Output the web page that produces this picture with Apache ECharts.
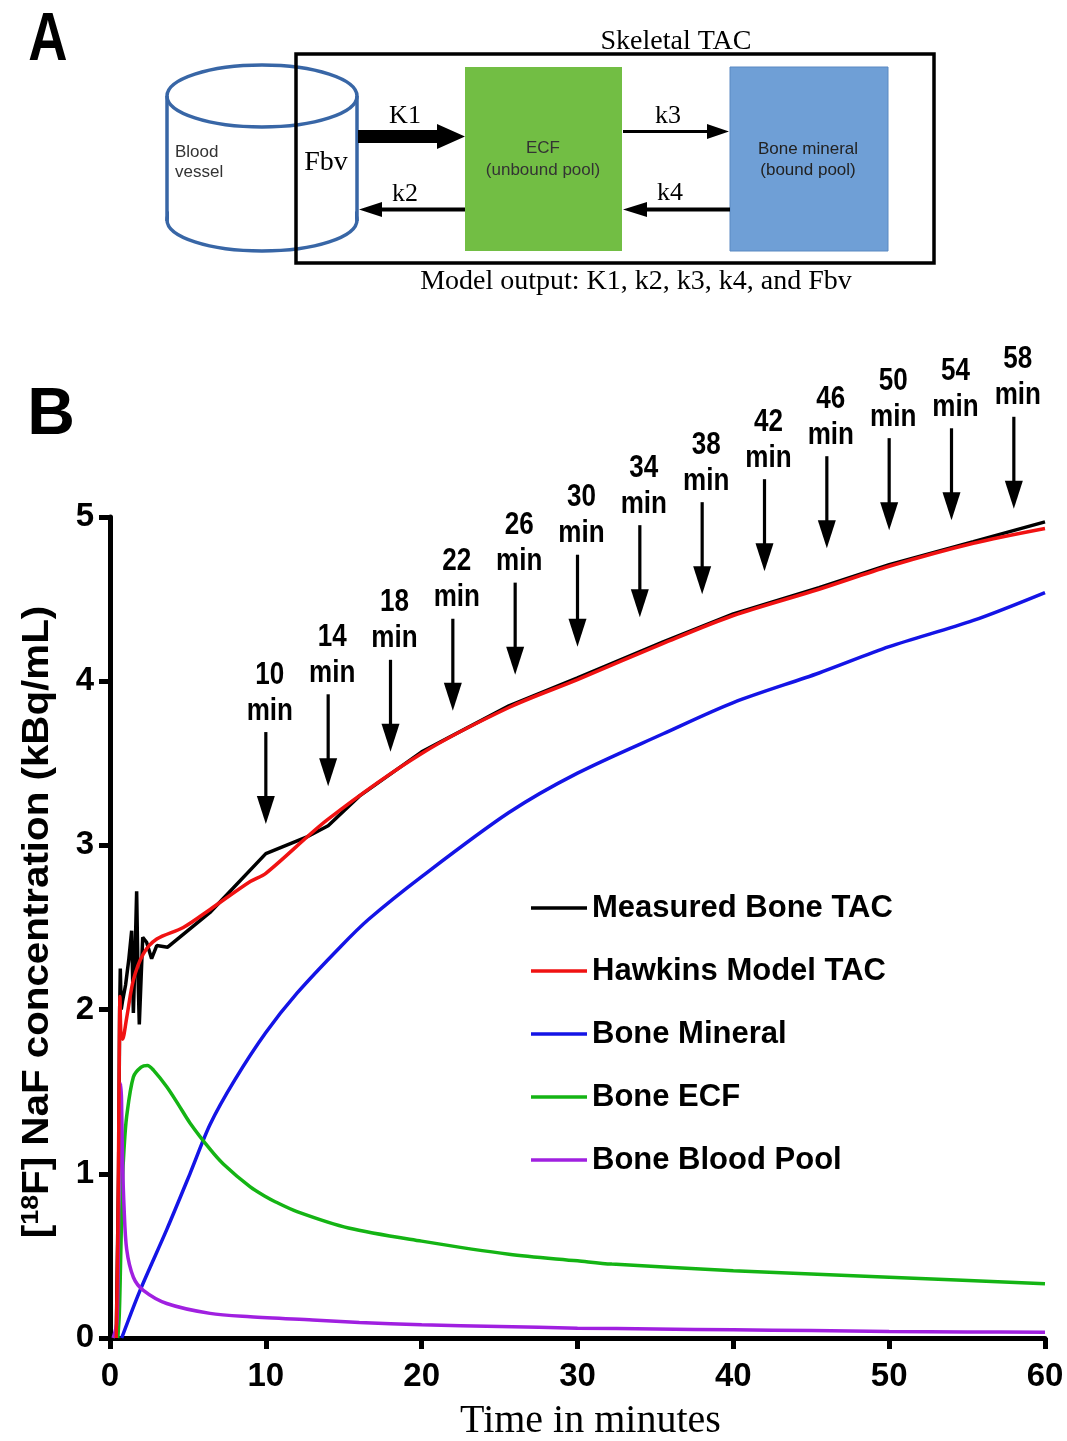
<!DOCTYPE html>
<html>
<head>
<meta charset="utf-8">
<title>Skeletal TAC</title>
<script src="https://cdn.jsdelivr.net/npm/echarts@6/dist/echarts.min.js"></script>
<style>
  html, body { margin: 0; padding: 0; background: #fff; }
  #chart { width: 1067px; height: 1441px; }
</style>
</head>
<body>
<div id="chart"></div>
<script>
// measured bone TAC (noisy at the start)
const measuredTime = [0.4, 0.55, 0.62, 0.66, 0.72, 0.8, 1.0, 1.2, 1.39, 1.5, 1.6, 1.71, 1.8, 1.88, 2.0, 2.1, 2.35, 2.67, 3.0, 3.7, 6.4, 10, 12.6, 14, 16, 20, 25.6, 30, 35.5, 40, 45.5, 50, 55.4, 60];
const measuredTac = [0, 1.0, 2.0, 2.25, 2.0, 2.05, 2.15, 2.3, 2.48, 1.98, 2.3, 2.72, 2.2, 1.91, 2.2, 2.44, 2.41, 2.31, 2.39, 2.38, 2.59, 2.95, 3.05, 3.12, 3.3, 3.57, 3.85, 4.02, 4.24, 4.41, 4.57, 4.71, 4.85, 4.97];

// Hawkins model TAC
const modelTime = [0.4, 0.5, 0.58, 0.64, 0.7, 0.8, 1.07, 1.5, 2.14, 3.0, 4.7, 6.42, 9, 10, 14, 20, 25.6, 30, 35.5, 40, 45.5, 50, 55.4, 60];
const modelTac = [0, 0.6, 1.5, 2.08, 1.85, 1.82, 1.95, 2.18, 2.34, 2.43, 2.5, 2.61, 2.78, 2.83, 3.16, 3.56, 3.84, 4.01, 4.23, 4.4, 4.56, 4.7, 4.84, 4.93];

// bone mineral (bound pool)
const mineralTime = [0.75, 1.93, 3.64, 5.13, 6.42, 8, 10, 12, 14.76, 16.6, 20, 25.6, 30, 35.5, 40, 45.5, 50, 55.4, 60];
const mineralVal = [0, 0.29, 0.66, 1.0, 1.3, 1.57, 1.86, 2.1, 2.38, 2.55, 2.81, 3.2, 3.44, 3.68, 3.87, 4.05, 4.21, 4.37, 4.54];

// bone ECF (unbound pool)
const ecfTime = [0.5, 0.6, 0.7, 0.8, 0.9, 1.07, 1.5, 2.0, 2.4, 2.8, 3.64, 4.4, 5.13, 6.42, 7.27, 9, 10, 10.6, 12, 15.3, 20, 25.6, 30, 32.2, 40, 50, 60];
const ecfVal = [0, 0.15, 0.55, 0.95, 1.15, 1.35, 1.59, 1.65, 1.66, 1.63, 1.53, 1.42, 1.31, 1.15, 1.06, 0.92, 0.86, 0.83, 0.77, 0.67, 0.59, 0.51, 0.47, 0.45, 0.41, 0.37, 0.33];

// bone blood pool
const bloodTime = [0.2, 0.45, 0.55, 0.62, 0.68, 0.74, 0.8, 0.9, 1.07, 1.5, 2.14, 3.64, 6.42, 9, 13, 16, 20, 25, 30, 35, 40, 45, 50, 55, 60];
const bloodVal = [0, 0.1, 0.7, 1.3, 1.55, 1.45, 1.1, 0.8, 0.54, 0.37, 0.29, 0.21, 0.15, 0.13, 0.11, 0.095, 0.08, 0.07, 0.06, 0.055, 0.05, 0.045, 0.04, 0.037, 0.035];

// static frame arrows
const frameTimes = [10, 14, 18, 22, 26, 30, 34, 38, 42, 46, 50, 54, 58];
const frameTips = [3.13, 3.36, 3.57, 3.82, 4.04, 4.21, 4.39, 4.53, 4.67, 4.81, 4.92, 4.98, 5.05];

const xTicks = [0, 60, 10];
const yTicks = [0, 5, 1];

const zip = (a, b) => a.map((t, i) => [t, b[i]]);

const sans = '"Liberation Sans", Arial, sans-serif';
const serif = '"Liberation Serif", "DejaVu Serif", serif';
const cylBlue = '#3866a6';

const chart = echarts.init(document.getElementById('chart'));

function lineSeries(name, data, color, z) {
  return {
    name: name,
    type: 'line',
    data: data,
    symbol: 'none',
    smooth: name === 'Measured Bone TAC' ? false : 0.3,
    z: z,
    lineStyle: { color: color, width: 3.5 },
    itemStyle: { color: color }
  };
}

const options = {
  animation: false,
  backgroundColor: '#fff',
  grid: { left: 110, right: 22, top: 517, bottom: 103, containLabel: false, outerBoundsMode: 'none' },
  legend: {
    orient: 'vertical',
    left: 526,
    top: 885,
    icon: 'rect',
    itemWidth: 56,
    itemHeight: 3.5,
    itemGap: 27,
    textStyle: { fontFamily: sans, fontWeight: 'bold', fontSize: 31, color: '#000', lineHeight: 36 },
    data: ['Measured Bone TAC', 'Hawkins Model TAC', 'Bone Mineral', 'Bone ECF', 'Bone Blood Pool']
  },
  xAxis: {
    type: 'value',
    min: xTicks[0],
    max: xTicks[1],
    interval: xTicks[2],
    name: 'Time in minutes',
    nameLocation: 'middle',
    nameGap: 63,
    nameTextStyle: { fontFamily: serif, fontSize: 40, color: '#000', padding: [0, 0, 0, 26] },
    axisLine: { lineStyle: { color: '#000', width: 5 } },
    axisTick: { length: 11, lineStyle: { color: '#000', width: 5 } },
    axisLabel: { fontFamily: sans, fontWeight: 'bold', fontSize: 33, color: '#000', margin: 22 },
    splitLine: { show: false }
  },
  yAxis: {
    type: 'value',
    min: yTicks[0],
    max: yTicks[1],
    interval: yTicks[2],
    axisLine: { lineStyle: { color: '#000', width: 5 } },
    axisTick: { length: 11, lineStyle: { color: '#000', width: 5 } },
    axisLabel: { fontFamily: sans, fontWeight: 'bold', fontSize: 33, color: '#000', margin: 16 },
    splitLine: { show: false }
  },
  series: [
    lineSeries('Measured Bone TAC', zip(measuredTime, measuredTac), '#000000', 3),
    lineSeries('Hawkins Model TAC', zip(modelTime, modelTac), '#f01212', 4),
    lineSeries('Bone Mineral', zip(mineralTime, mineralVal), '#1414e6', 3),
    lineSeries('Bone ECF', zip(ecfTime, ecfVal), '#14b414', 3),
    lineSeries('Bone Blood Pool', zip(bloodTime, bloodVal), '#a020e0', 3),
    {
      name: 'frames',
      type: 'custom',
      clip: false,
      z: 6,
      data: zip(frameTimes, frameTips),
      renderItem: function (params, api) {
        const p = api.coord([api.value(0), api.value(1)]);
        const x = p[0], y = p[1];
        return {
          type: 'group',
          children: [
            { type: 'rect', shape: { x: x - 1.6, y: y - 92, width: 3.2, height: 68 }, style: { fill: '#000' } },
            { type: 'polygon', shape: { points: [[x - 9, y - 28], [x + 9, y - 28], [x, y]] }, style: { fill: '#000' } },
            {
              type: 'text', x: x + 4, y: y - 131, scaleX: 0.84,
              style: {
                text: api.value(0) + '\nmin', fill: '#000',
                font: 'bold 31px ' + sans, lineHeight: 36,
                textAlign: 'center', textVerticalAlign: 'middle'
              }
            }
          ]
        };
      }
    }
  ],
  graphic: [
    // panel letters
    { type: 'text', x: 48, y: 41, scaleX: 0.8, style: { text: 'A', font: 'bold 68px ' + sans, fill: '#000', textAlign: 'center', textVerticalAlign: 'middle' } },
    { type: 'text', x: 51, y: 416, style: { text: 'B', font: 'bold 66px ' + sans, fill: '#000', textAlign: 'center', textVerticalAlign: 'middle' } },
    // y axis title
    {
      type: 'text', x: 38, y: 922, rotation: Math.PI / 2, scaleX: 1.12,
      style: {
        text: '[{sup|18}F] NaF concentration (kBq/mL)',
        font: 'bold 36px ' + sans, fill: '#000',
        textAlign: 'center', textVerticalAlign: 'middle',
        rich: { sup: { fontSize: 24, fontWeight: 'bold', fontFamily: sans, verticalAlign: 'top', padding: [0, 0, 14, 0] } }
      }
    },
    // blood vessel cylinder
    { type: 'ellipse', z: 1, shape: { cx: 262, cy: 220, rx: 95, ry: 31 }, style: { fill: '#fff', stroke: cylBlue, lineWidth: 3.5 } },
    { type: 'rect', z: 2, shape: { x: 169, y: 96, width: 186, height: 124 }, style: { fill: '#fff' } },
    { type: 'line', z: 3, shape: { x1: 167, y1: 96, x2: 167, y2: 221 }, style: { stroke: cylBlue, lineWidth: 3.5 } },
    { type: 'line', z: 3, shape: { x1: 357, y1: 96, x2: 357, y2: 221 }, style: { stroke: cylBlue, lineWidth: 3.5 } },
    { type: 'ellipse', z: 3, shape: { cx: 262, cy: 96, rx: 95, ry: 31 }, style: { fill: 'none', stroke: cylBlue, lineWidth: 3.5 } },
    // skeletal box
    { type: 'rect', z: 4, shape: { x: 296, y: 54, width: 638, height: 209 }, style: { fill: 'none', stroke: '#000', lineWidth: 3.5 } },
    { type: 'rect', z: 4, shape: { x: 465, y: 67, width: 157, height: 184 }, style: { fill: '#72be44' } },
    { type: 'rect', z: 4, shape: { x: 730, y: 67, width: 158, height: 184 }, style: { fill: '#6f9fd6', stroke: '#5b89c2', lineWidth: 1 } },
    // rate arrows
    { type: 'polygon', z: 5, shape: { points: [[358, 130], [437, 130], [437, 124], [465, 136.5], [437, 149], [437, 143], [358, 143]] }, style: { fill: '#000' } },
    { type: 'polygon', z: 5, shape: { points: [[623, 130], [707, 130], [707, 124], [729, 131.5], [707, 139], [707, 133], [623, 133]] }, style: { fill: '#000' } },
    { type: 'polygon', z: 5, shape: { points: [[465, 207.5], [382, 207.5], [382, 202], [359, 209.5], [382, 217], [382, 211.5], [465, 211.5]] }, style: { fill: '#000' } },
    { type: 'polygon', z: 5, shape: { points: [[730, 207.5], [647, 207.5], [647, 202], [623, 209.5], [647, 217], [647, 211.5], [730, 211.5]] }, style: { fill: '#000' } },
    // diagram labels
    { type: 'text', z: 6, x: 676, y: 42, style: { text: 'Skeletal TAC', font: '28px ' + serif, fill: '#000', textAlign: 'center', textVerticalAlign: 'middle' } },
    { type: 'text', z: 6, x: 636, y: 282, style: { text: 'Model output: K1, k2, k3, k4, and Fbv', font: '28px ' + serif, fill: '#000', textAlign: 'center', textVerticalAlign: 'middle' } },
    { type: 'text', z: 6, x: 405, y: 116, style: { text: 'K1', font: '26px ' + serif, fill: '#000', textAlign: 'center', textVerticalAlign: 'middle' } },
    { type: 'text', z: 6, x: 668, y: 116, style: { text: 'k3', font: '26px ' + serif, fill: '#000', textAlign: 'center', textVerticalAlign: 'middle' } },
    { type: 'text', z: 6, x: 405, y: 194, style: { text: 'k2', font: '26px ' + serif, fill: '#000', textAlign: 'center', textVerticalAlign: 'middle' } },
    { type: 'text', z: 6, x: 670, y: 193, style: { text: 'k4', font: '26px ' + serif, fill: '#000', textAlign: 'center', textVerticalAlign: 'middle' } },
    { type: 'text', z: 6, x: 326, y: 163, style: { text: 'Fbv', font: '28px ' + serif, fill: '#000', textAlign: 'center', textVerticalAlign: 'middle' } },
    { type: 'text', z: 6, x: 175, y: 152, style: { text: 'Blood', font: '17px ' + sans, fill: '#333', textAlign: 'left', textVerticalAlign: 'middle' } },
    { type: 'text', z: 6, x: 175, y: 172, style: { text: 'vessel', font: '17px ' + sans, fill: '#333', textAlign: 'left', textVerticalAlign: 'middle' } },
    { type: 'text', z: 6, x: 543, y: 148, style: { text: 'ECF', font: '17px ' + sans, fill: '#333', textAlign: 'center', textVerticalAlign: 'middle' } },
    { type: 'text', z: 6, x: 543, y: 170, style: { text: '(unbound pool)', font: '17px ' + sans, fill: '#333', textAlign: 'center', textVerticalAlign: 'middle' } },
    { type: 'text', z: 6, x: 808, y: 149, style: { text: 'Bone mineral', font: '17px ' + sans, fill: '#222', textAlign: 'center', textVerticalAlign: 'middle' } },
    { type: 'text', z: 6, x: 808, y: 170, style: { text: '(bound pool)', font: '17px ' + sans, fill: '#222', textAlign: 'center', textVerticalAlign: 'middle' } }
  ]
};
chart.setOption(options, true);
</script>
</body>
</html>
